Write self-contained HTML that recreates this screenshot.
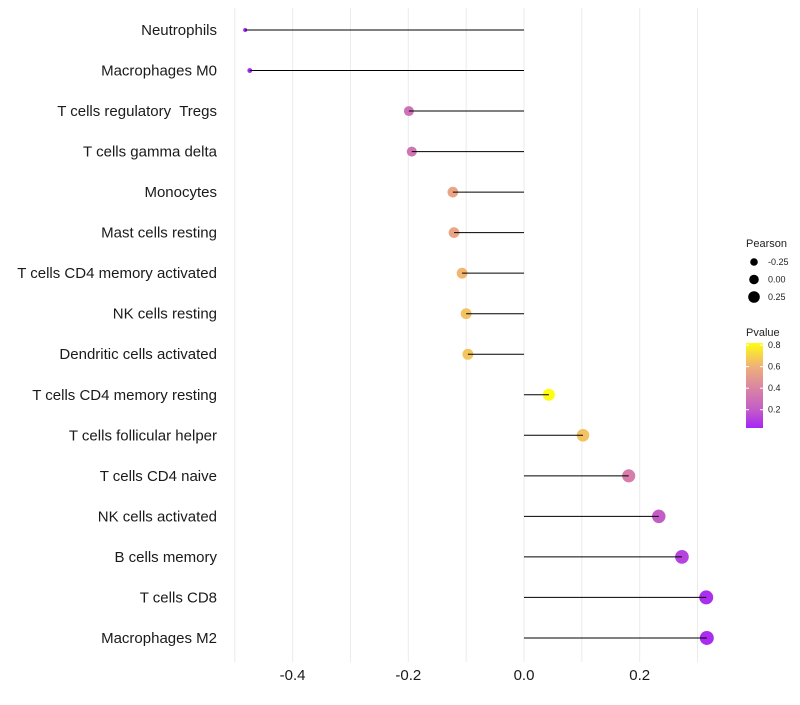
<!DOCTYPE html>
<html><head><meta charset="utf-8"><style>
body{margin:0;background:#fff;font-family:"Liberation Sans",sans-serif}
text{white-space:pre}
</style></head><body>
<svg id="c" width="800" height="700" xmlns="http://www.w3.org/2000/svg" font-family="Liberation Sans, sans-serif"></svg>
<script>
const categories=["Neutrophils","Macrophages M0","T cells regulatory  Tregs","T cells gamma delta","Monocytes","Mast cells resting","T cells CD4 memory activated","NK cells resting","Dendritic cells activated","T cells CD4 memory resting","T cells follicular helper","T cells CD4 naive","NK cells activated","B cells memory","T cells CD8","Macrophages M2"];
const pearson=[-0.482,-0.474,-0.199,-0.194,-0.123,-0.121,-0.107,-0.100,-0.097,0.043,0.102,0.181,0.233,0.273,0.315,0.316];
const pvalue=[0.01,0.01,0.30,0.32,0.55,0.55,0.62,0.65,0.66,0.82,0.65,0.36,0.2,0.12,0.06,0.05];
const xTicks=[-0.4,-0.2,0.0,0.2];
const xMinor=[-0.5,-0.3,-0.1,0.1,0.3];
const sizeLegend=[-0.25,0.00,0.25];
const pTicks=[0.2,0.4,0.6,0.8];

const svg=document.getElementById('c');
const NS="http://www.w3.org/2000/svg";
function el(t,a,p){const e=document.createElementNS(NS,t);for(const k in a)e.setAttribute(k,a[k]);(p||svg).appendChild(e);return e;}
const x=v=>524+v*578.5;
const y=i=>30+i*40.53;
const r=v=>2+5*Math.sqrt(Math.max(0,(v+0.48)/0.8));
const rLeg=v=>4.8+4*v;
const stops=[[0.03,[165,38,245]],[0.2,[196,92,200]],[0.4,[218,133,163]],[0.6,[239,176,122]],[0.82,[255,253,16]]];
function col(p){if(p<=stops[0][0])return 'rgb('+stops[0][1]+')';for(let i=1;i<stops.length;i++){if(p<=stops[i][0]){const a=stops[i-1],b=stops[i],t=(p-a[0])/(b[0]-a[0]);return 'rgb('+a[1].map((c,j)=>Math.round(c+(b[1][j]-c)*t)).join(',')+')';}}return 'rgb('+stops[stops.length-1][1]+')';}

xMinor.concat(xTicks).forEach(v=>{const g=el('line',{x1:x(v),x2:x(v),y1:8,y2:662,stroke:'#ebebeb','stroke-width':1});

});
xTicks.forEach(v=>{const t=el('text',{x:x(v),y:680,'text-anchor':'middle','font-size':15,fill:'#1a1a1a'});t.textContent=v.toFixed(1);

});
categories.forEach((c,i)=>{
const t=el('text',{x:217,y:y(i)+5,'text-anchor':'end','font-size':15,fill:'#1a1a1a'});t.textContent=c;


const pt=el('circle',{cx:x(pearson[i]),cy:y(i),r:r(pearson[i]),fill:col(pvalue[i])});


const ln=el('line',{x1:x(0),x2:x(pearson[i]),y1:y(i),y2:y(i),stroke:'#000','stroke-width':1});


});
const lt=el('text',{x:746,y:247,'font-size':11,fill:'#222'});lt.textContent='Pearson';


sizeLegend.forEach((v,i)=>{const cy=262+i*17.5;
const c=el('circle',{cx:754,cy:cy,r:rLeg(v),fill:'#000'});


const t=el('text',{x:768,y:cy+3,'font-size':9,fill:'#222'});t.textContent=v.toFixed(2);

});
const pt2=el('text',{x:746,y:336,'font-size':11,fill:'#222'});pt2.textContent='Pvalue';


const defs=el('defs',{});const lg=el('linearGradient',{id:'g',x1:0,y1:1,x2:0,y2:0},defs);
stops.forEach(s=>{const t=(s[0]-0.03)/(0.82-0.03);el('stop',{offset:t,'stop-color':'rgb('+s[1]+')'},lg);});
const py=v=>428-(v-0.03)/(0.82-0.03)*85;
const bar=el('rect',{x:746,y:343,width:17,height:85,fill:'url(#g)'});


pTicks.forEach(v=>{el('line',{x1:746,x2:749,y1:py(v),y2:py(v),stroke:'#fff'});el('line',{x1:760,x2:763,y1:py(v),y2:py(v),stroke:'#fff'});
const t=el('text',{x:768,y:py(v)+3,'font-size':9,fill:'#222'});t.textContent=v.toFixed(1);

});
</script>
</body></html>
